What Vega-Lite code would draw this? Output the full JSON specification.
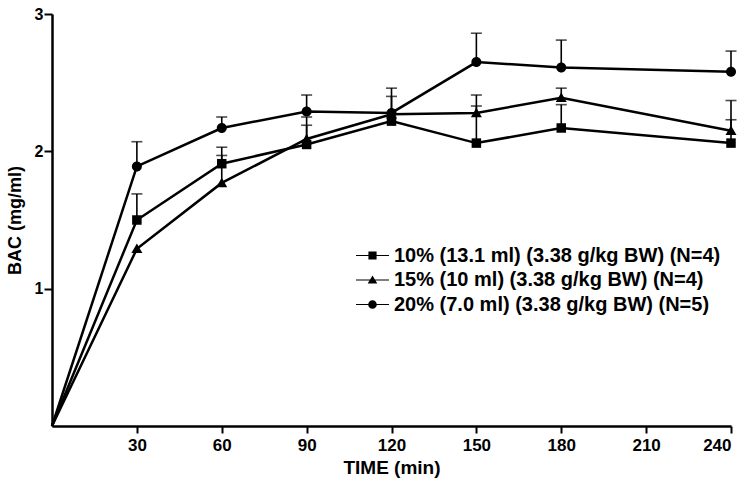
{
  "$schema": "https://vega.github.io/schema/vega-lite/v6.json",
  "autosize": {"type": "none"},
  "width": 679,
  "height": 412,
  "padding": {"left": 52, "top": 14, "right": 23, "bottom": 65},
  "background": "white",
  "config": {
    "view": {"stroke": null},
    "font": "Liberation Sans",
    "axis": {"grid": false, "domainColor": "black", "domainWidth": 2.5, "tickColor": "black", "tickWidth": 2, "tickSize": 8, "labelColor": "black", "labelFontWeight": "bold", "titleColor": "black", "titleFontWeight": "bold", "labelFont": "Liberation Sans", "titleFont": "Liberation Sans"}
  },
  "data": {"values": [
    {"g": "10% (13.1 ml) (3.38 g/kg BW) (N=4)", "t": 0, "m": 0, "u": null},
    {"g": "10% (13.1 ml) (3.38 g/kg BW) (N=4)", "t": 30, "m": 1.50, "u": 1.69},
    {"g": "10% (13.1 ml) (3.38 g/kg BW) (N=4)", "t": 60, "m": 1.91, "u": 2.03},
    {"g": "10% (13.1 ml) (3.38 g/kg BW) (N=4)", "t": 90, "m": 2.05, "u": 2.25},
    {"g": "10% (13.1 ml) (3.38 g/kg BW) (N=4)", "t": 120, "m": 2.22, "u": null},
    {"g": "10% (13.1 ml) (3.38 g/kg BW) (N=4)", "t": 150, "m": 2.06, "u": 2.33},
    {"g": "10% (13.1 ml) (3.38 g/kg BW) (N=4)", "t": 180, "m": 2.17, "u": 2.34},
    {"g": "10% (13.1 ml) (3.38 g/kg BW) (N=4)", "t": 240, "m": 2.06, "u": 2.23},
    {"g": "15% (10 ml) (3.38 g/kg BW) (N=4)", "t": 0, "m": 0, "u": null},
    {"g": "15% (10 ml) (3.38 g/kg BW) (N=4)", "t": 30, "m": 1.29, "u": null},
    {"g": "15% (10 ml) (3.38 g/kg BW) (N=4)", "t": 60, "m": 1.77, "u": 1.97},
    {"g": "15% (10 ml) (3.38 g/kg BW) (N=4)", "t": 90, "m": 2.09, "u": 2.19},
    {"g": "15% (10 ml) (3.38 g/kg BW) (N=4)", "t": 120, "m": 2.27, "u": 2.40},
    {"g": "15% (10 ml) (3.38 g/kg BW) (N=4)", "t": 150, "m": 2.28, "u": 2.41},
    {"g": "15% (10 ml) (3.38 g/kg BW) (N=4)", "t": 180, "m": 2.39, "u": 2.46},
    {"g": "15% (10 ml) (3.38 g/kg BW) (N=4)", "t": 240, "m": 2.15, "u": 2.37},
    {"g": "20% (7.0 ml) (3.38 g/kg BW) (N=5)", "t": 0, "m": 0, "u": null},
    {"g": "20% (7.0 ml) (3.38 g/kg BW) (N=5)", "t": 30, "m": 1.89, "u": 2.07},
    {"g": "20% (7.0 ml) (3.38 g/kg BW) (N=5)", "t": 60, "m": 2.17, "u": 2.25},
    {"g": "20% (7.0 ml) (3.38 g/kg BW) (N=5)", "t": 90, "m": 2.29, "u": 2.41},
    {"g": "20% (7.0 ml) (3.38 g/kg BW) (N=5)", "t": 120, "m": 2.28, "u": 2.46},
    {"g": "20% (7.0 ml) (3.38 g/kg BW) (N=5)", "t": 150, "m": 2.65, "u": 2.86},
    {"g": "20% (7.0 ml) (3.38 g/kg BW) (N=5)", "t": 180, "m": 2.61, "u": 2.81},
    {"g": "20% (7.0 ml) (3.38 g/kg BW) (N=5)", "t": 240, "m": 2.58, "u": 2.73}
  ]},
  "encoding": {
    "x": {"field": "t", "type": "quantitative", "scale": {"domain": [0, 240], "nice": false, "zero": true},
      "axis": {"values": [30, 60, 90, 120, 150, 180, 210, 240], "title": "TIME (min)", "tickSize": 7, "labelFontSize": 17, "labelPadding": 4, "titleFontSize": 19, "titlePadding": 5}},
    "y": {"field": "m", "type": "quantitative", "scale": {"domain": [0, 3], "nice": false},
      "axis": {"values": [1, 2, 3], "title": "BAC (mg/ml)", "labelFontSize": 16, "labelPadding": 1, "titleFontSize": 18, "titlePadding": 10}}
  },
  "layer": [
    {
      "transform": [{"filter": "datum.u != null"}],
      "mark": {"type": "rule", "color": "black", "strokeWidth": 1.6},
      "encoding": {"y2": {"field": "u"}}
    },
    {
      "transform": [{"filter": "datum.u != null"}],
      "mark": {"type": "tick", "orient": "horizontal", "color": "black", "size": 11, "thickness": 1.6},
      "encoding": {"y": {"field": "u", "type": "quantitative"}}
    },
    {
      "mark": {"type": "line", "color": "black", "strokeWidth": 2.5},
      "encoding": {"detail": {"field": "g", "type": "nominal"}}
    },
    {
      "transform": [{"filter": "datum.t > 0"}],
      "mark": {"type": "point", "filled": true, "fill": "black", "opacity": 1, "size": 100},
      "encoding": {
        "shape": {"field": "g", "type": "nominal",
          "scale": {"range": [
            "M-0.95,-0.95H0.95V0.95H-0.95Z",
            "M0,-1.05L1.1,0.85H-1.1Z",
            "M1,0A1,1,0,1,1,-1,0A1,1,0,1,1,1,0Z"
          ]},
          "legend": null
        }
      }
    },
    {
      "transform": [{"filter": "datum.t < 0"}],
      "mark": {"type": "point", "filled": true, "fill": "black", "opacity": 1, "size": 576},
      "encoding": {
        "shape": {"field": "g", "type": "nominal",
          "scale": {
            "domain": ["10% (13.1 ml) (3.38 g/kg BW) (N=4)", "15% (10 ml) (3.38 g/kg BW) (N=4)", "20% (7.0 ml) (3.38 g/kg BW) (N=5)"],
            "range": [
              "M-1.375,-0.05H1.375V0.05H-1.375ZM-0.34,-0.34H0.34V0.34H-0.34Z",
              "M-1.375,-0.05H1.375V0.05H-1.375ZM0,-0.37L0.4,0.3H-0.4Z",
              "M-1.375,-0.05H1.375V0.05H-1.375ZM0.36,0A0.36,0.36,0,1,1,-0.36,0A0.36,0.36,0,1,1,0.36,0Z"
            ]},
          "legend": {"title": null, "orient": "none", "legendX": 307.5, "legendY": 228.5, "symbolSize": 576, "symbolOpacity": 1, "labelFontSize": 20, "labelFontWeight": "bold", "labelColor": "black", "labelOffset": 8.5, "rowPadding": 1.5, "labelLimit": 500}
        }
      }
    }
  ],
  "resolve": {"scale": {"shape": "independent"}, "legend": {"shape": "independent"}}
}
